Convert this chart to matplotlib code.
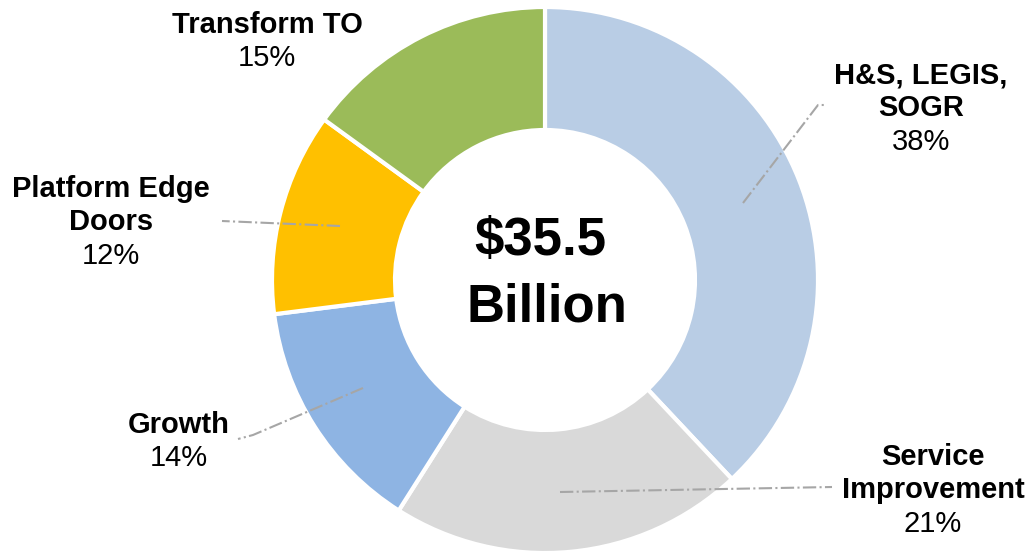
import matplotlib.pyplot as plt

plt.rcParams['font.family'] = ['Liberation Sans', 'DejaVu Sans']

# budget split, clockwise from 12 o'clock
categories = [["H&S, LEGIS,", "SOGR"], ["Service", "Improvement"], ["Growth"],
              ["Platform Edge", "Doors"], ["Transform TO"]]
shares = [38, 21, 14, 12, 15]
colors = ["#B9CDE5", "#D9D9D9", "#8EB4E3", "#FFC000", "#9BBB59"]
total_label = ["$35.5", "Billion"]

H = 553
# label block: centre x and baseline of first line (pixel space, y down)
label_pos = [(921, 83), (933, 465), (179, 433), (111, 197), (267, 33)]
line_step = 33.5
# leader lines, pixel space
leaders = [
    [(743, 203), (818, 105), (826, 105)],
    [(560, 492), (832, 487)],
    [(363, 388), (253, 435), (238, 439)],
    [(340, 226), (222, 221)],
    None,
]

fig = plt.figure(figsize=(10.3, 5.53), dpi=100)
ax = fig.add_axes([0, 0, 1, 1])

ax.pie(shares, colors=colors, startangle=90, counterclock=False,
       center=(545, H - 280), radius=273, frame=True,
       wedgeprops=dict(width=123, edgecolor='white', linewidth=3))
ax.set_xlim(0, 1030)
ax.set_ylim(0, H)
ax.set_aspect('equal')
ax.axis('off')

for pts in leaders:
    if pts is None:
        continue
    xs = [p[0] for p in pts]
    ys = [H - p[1] for p in pts]
    ax.plot(xs, ys, color='#A6A6A6', linestyle='-.', linewidth=1.5)

for lines, v, (x, y) in zip(categories, shares, label_pos):
    for i, line in enumerate(lines + [f"{v}%"]):
        bold = i < len(lines)
        ax.text(x, H - (y + i * line_step), line, ha='center', va='baseline',
                fontsize=21, fontweight='bold' if bold else 'normal')

ax.text(540, H - 255, total_label[0], ha='center', va='baseline',
        fontsize=38, fontweight='bold')
ax.text(547, H - 322, total_label[1], ha='center', va='baseline',
        fontsize=38, fontweight='bold')

fig.savefig("out.png", dpi=100)
